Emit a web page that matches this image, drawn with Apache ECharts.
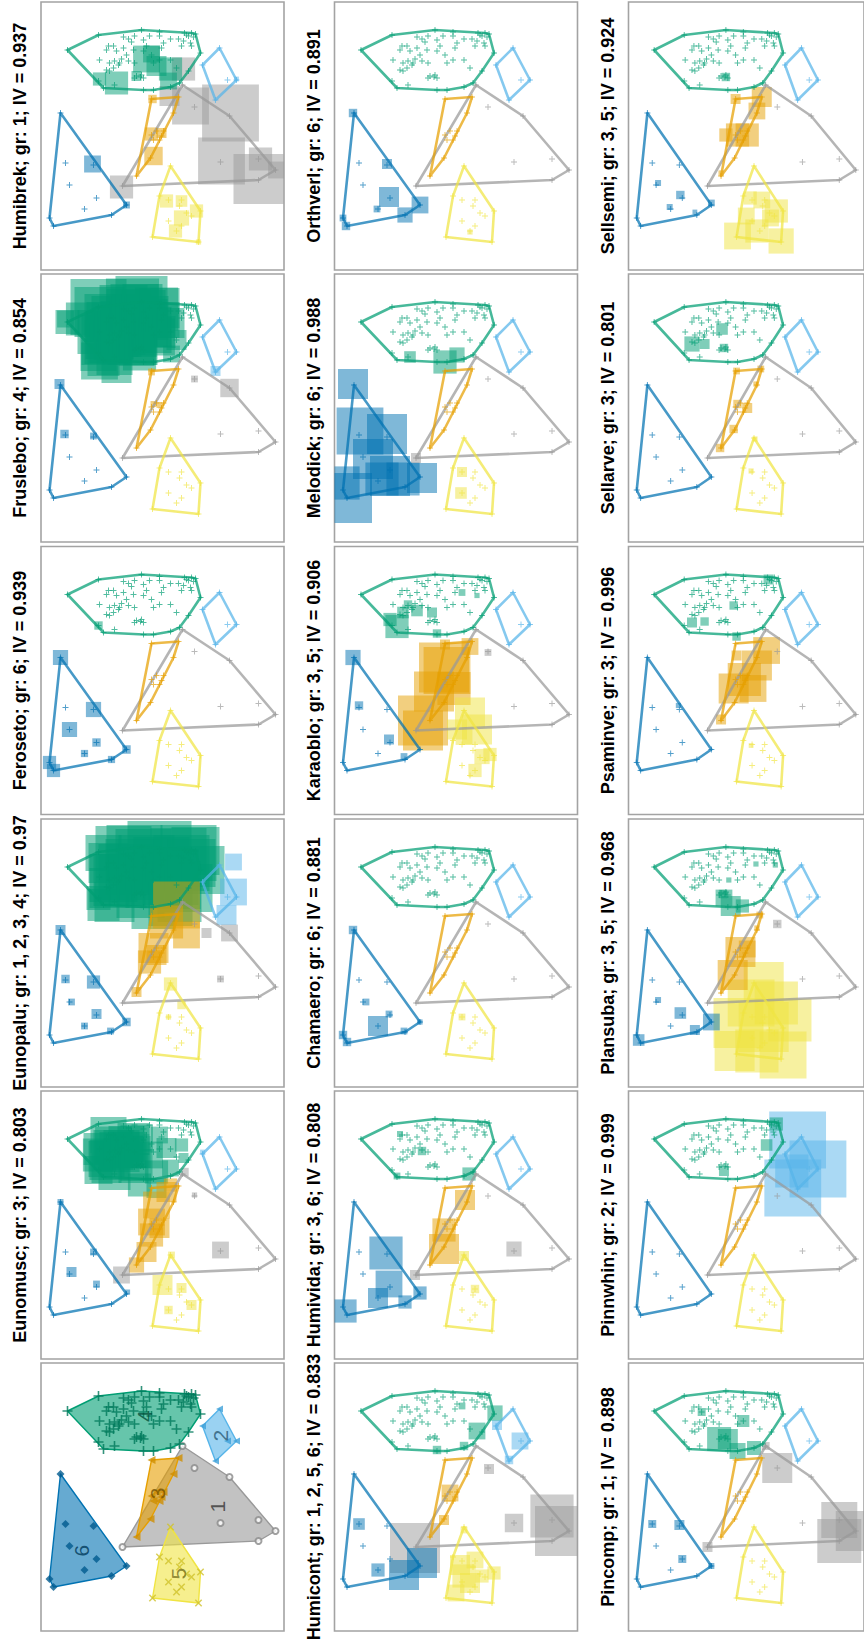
<!DOCTYPE html>
<html>
<head>
<meta charset="utf-8">
<script src="https://cdn.jsdelivr.net/npm/echarts@6/dist/echarts.min.js"></script>
<style>
  html, body { margin: 0; padding: 0; background: #ffffff; }
  #chart { width: 864px; height: 1643px; }
</style>
</head>
<body>
<div id="chart"></div>
<script>
// Okabe-Ito colours for site clusters 1-6
const groupColors = ['#999999', '#56B4E9', '#E69F00', '#009E73', '#F0E442', '#0072B2'];

// NMDS site scores per cluster: [NMDS2, NMDS1]
const sitesGroup1 = [[-0.20,0.51],[-0.32,0.29],[-0.67,0.20],[-0.58,-0.26],[-0.96,-0.23],[-1.13,-0.34],[-0.96,-0.44],[0.40,-0.50]];
const sitesGroup2 = [[-0.57,0.88],[-0.74,0.56],[-0.53,0.36],[-0.40,0.71],[-0.65,0.56]];
const sitesGroup3 = [[0.11,0.37],[-0.16,0.39],[-0.11,0.23],[0.26,-0.40],[0.11,0.01],[0.06,0.05],[0.01,0.00],[-0.01,0.05],[0.03,-0.04],[0.09,-0.04],[0.12,-0.22]];
const sitesGroup4 = [
  [0.95,0.86],[0.64,1.01],[0.21,1.06],[0.03,1.04],[-0.22,1.03],[-0.33,1.02],[-0.38,0.83],[-0.26,0.65],[-0.17,0.53],[-0.08,0.49],[0.09,0.46],[0.19,0.46],[0.59,0.48],[0.64,0.55],
  [0.39,0.99],[0.34,0.97],[0.28,1.00],[0.31,0.94],[0.19,0.96],[0.03,1.00],[-0.08,0.97],[-0.16,0.97],[-0.21,0.95],[-0.26,1.00],[-0.29,1.03],[-0.28,0.93],[-0.19,0.90],[-0.29,0.90],
  [0.54,0.90],[0.49,0.90],[0.56,0.86],[0.63,0.76],[0.53,0.73],[0.48,0.75],[0.43,0.73],[0.41,0.77],[0.36,0.81],[0.34,0.75],[0.29,0.86],[0.28,0.73],[0.19,0.85],[0.16,0.90],
  [0.11,0.81],[0.09,0.73],[0.03,0.76],[0.01,0.88],[-0.08,0.76],[-0.14,0.68],[0.56,0.66],[0.49,0.68],[0.44,0.71],[0.26,0.60],[0.22,0.59],[0.19,0.58],[0.28,0.58],[0.21,0.61],
  [0.48,0.51],[0.46,0.85],[0.53,0.65],[0.39,0.88],[0.13,1.00],[-0.31,0.99],[-0.24,1.01],[-0.01,0.93]
];
const sitesGroup5 = [[-0.08,-0.30],[0.03,-0.60],[-0.38,-0.75],[-0.36,-1.06],[0.10,-1.01],[-0.06,-0.64],[-0.19,-0.64],[-0.17,-0.70],[-0.24,-0.77],[-0.29,-0.80],[-0.06,-0.85],[-0.14,-0.95],[-0.19,-0.90]];
const sitesGroup6 = [[1.02,0.23],[0.97,-0.27],[0.69,-0.29],[0.93,-0.49],[0.66,-0.62],[0.78,-0.73],[0.51,-0.79],[0.36,-0.69],[1.13,-0.82],[1.09,-0.90]];

// Indicator species, their indicated clusters and indicator values
const speciesNames = ['Eunomusc','Eunopalu','Feroseto','Fruslebo','Humibrek','Humicont','Humivida','Chamaero','Karaoblo',
  'Melodick','Orthverl','Pincomp','Pinnwhin','Plansuba','Psaminve','Sellarve','Sellsemi'];
const speciesGroups = ['3','1, 2, 3, 4','6','4','1','1, 2, 5, 6','3, 6','6','3, 5','6','6','1','2','3, 5','3','3','3, 5'];
const speciesIV = [0.803, 0.97, 0.939, 0.854, 0.937, 0.833, 0.808, 0.881, 0.906, 0.988, 0.891, 0.898, 0.999, 0.968, 0.996, 0.801, 0.924];

// Species cover at sites: [NMDS2, NMDS1, cover, cluster]
const coverEunomusc = [
  [0.63,0.70,8.3,4],[0.49,0.80,9.2,4],[0.36,0.73,8.3,4],[0.23,0.87,6.7,4],[0.56,0.57,7.5,4],[0.29,0.57,7.5,4],[0.13,0.70,6.7,4],[0.06,0.53,5.8,4],
  [0.23,0.40,5.8,4],[0.06,0.37,5.0,4],[-0.08,0.57,4.2,4],[-0.04,0.77,5.0,4],[-0.19,0.80,3.3,4],[-0.21,0.67,2.5,4],[0.03,0.90,4.2,4],
  [0.54,0.90,9,4],[0.49,0.75,10,4],[0.43,0.73,10,4],[0.36,0.81,9,4],[0.53,0.65,10,4],[0.56,0.66,9,4],[0.48,0.51,8,4],[0.41,0.77,9,4],
  [0.29,0.86,8,4],[0.34,0.75,9,4],[0.28,0.73,8,4],[0.26,0.60,8,4],[0.64,0.55,7,4],[0.63,0.76,8,4],
  [-0.04,0.33,5.0,3],[0.06,0.20,6.7,3],[0.11,0.03,6.7,3],[0.11,-0.10,5.8,3],[0.16,-0.27,5.0,3],[0.26,-0.40,3.8,3],[0.03,-0.03,5.0,3],[-0.08,0.40,3.3,3],
  [-0.32,0.30,1.3,1],[-0.58,-0.25,4.2,1],[0.41,-0.50,4.2,1],[-0.22,0.53,2.1,1],
  [0.00,-0.60,5.0,5],[-0.19,-0.63,2.5,5],[-0.06,-0.85,2.1,5],[-0.29,-0.80,2.5,5],[-0.09,-0.30,1.7,5],
  [0.91,-0.47,2.5,6],[0.66,-0.59,1.7,6],[0.69,-0.27,1.7,6],[0.35,-0.67,1.3,6],[1.02,0.23,1.5,6],
  [-0.40,0.73,1.2,2]
];
const coverEunopalu = [
  [0.59,1.00,9,4],[0.39,0.99,14,4],[0.28,1.00,14,4],[0.19,0.96,14,4],[0.03,1.00,16,4],[-0.16,0.97,14,4],[-0.26,1.00,14,4],[-0.33,1.02,12,4],
  [-0.38,0.83,12,4],[-0.26,0.65,12,4],[-0.17,0.53,11,4],[0.54,0.90,10,4],[0.49,0.75,12,4],[0.36,0.81,14,4],[0.29,0.86,14,4],[0.16,0.90,14,4],
  [0.01,0.88,14,4],[-0.19,0.90,14,4],[-0.29,0.90,12,4],[0.53,0.65,10,4],[0.43,0.73,13,4],[0.28,0.73,13,4],[0.09,0.73,14,4],[-0.08,0.76,14,4],
  [-0.14,0.68,12,4],[0.48,0.51,10,4],[0.22,0.59,12,4],[0.09,0.46,11,4],[-0.08,0.49,11,4],[0.59,0.48,8,4],[0.64,0.55,6,4],
  [-0.71,0.61,6.7,2],[-0.71,0.91,4.2,2],[-0.64,0.38,5,2],
  [-0.14,0.48,11.7,3],[-0.04,0.31,8.3,3],[-0.24,0.18,6.7,3],[0.09,0.05,7.5,3],[0.13,-0.09,5.8,3],[0.26,-0.39,2.5,3],[0.06,-0.02,5,3],
  [-0.67,0.20,4.2,1],[-0.44,0.20,2.5,1],[-0.58,-0.26,1.7,1],
  [-0.08,-0.31,3.3,5],[-0.19,-0.52,2.1,5],[-0.06,-0.64,1.3,5],
  [1.02,0.23,2.5,6],[0.97,-0.26,2.1,6],[0.69,-0.29,3.3,6],[0.91,-0.49,1.7,6],[0.66,-0.61,2.5,6],[0.78,-0.73,1.7,6],[0.52,-0.78,1.7,6],[0.36,-0.69,2.1,6]
];
const coverFeroseto = [
  [1.02,0.23,3.8,6],[0.69,-0.29,3.8,6],[0.93,-0.49,3.8,6],[0.66,-0.62,2.1,6],[0.78,-0.73,1.8,6],[0.51,-0.79,1.8,6],[0.36,-0.69,2.1,6],[1.13,-0.82,3.3,6],[1.09,-0.90,3.3,6],
  [0.64,0.55,2.1,4]
];
const coverFruslebo = [
  [0.63,0.96,12.5,4],[0.30,1.03,13.3,4],[0.06,0.99,10.8,4],[0.80,0.89,8.3,4],[0.56,0.68,12.5,4],[0.30,0.68,12.5,4],[0.06,0.71,9.2,4],[0.63,0.47,9.2,4],
  [0.23,0.54,8.3,4],[-0.07,0.85,7.5,4],[-0.14,0.68,5,4],[-0.09,0.54,4.2,4],[0.46,0.40,7.5,4],[0.20,1.04,10,4],[0.97,0.89,4.2,4],
  [0.54,0.90,12,4],[0.49,0.90,11,4],[0.56,0.86,10,4],[0.39,0.99,12,4],[0.34,0.97,11,4],[0.28,1.00,12,4],[0.31,0.94,10,4],[0.19,0.96,11,4],
  [0.03,1.00,10,4],[0.63,0.76,11,4],[0.53,0.73,12,4],[0.48,0.75,10,4],[0.43,0.73,11,4],[0.41,0.77,12,4],[0.36,0.81,13,4],[0.34,0.75,10,4],
  [0.29,0.86,12,4],[0.28,0.73,11,4],[0.19,0.85,12,4],[0.16,0.90,11,4],[0.11,0.81,10,4],[0.09,0.73,9,4],[0.03,0.76,8,4],[0.01,0.88,9,4],
  [0.56,0.66,11,4],[0.49,0.68,10,4],[0.44,0.71,10,4],[0.26,0.60,9,4],[0.22,0.59,8,4],[0.48,0.51,9,4],[0.53,0.65,10,4],[0.64,0.55,9,4],
  [0.59,0.48,8,4],[0.64,1.01,14,4],[0.21,1.06,13,4],[0.95,0.86,6,4],
  [-0.32,0.29,1.7,1],[-0.67,0.20,4.6,1],
  [-0.53,0.37,2.5,2],
  [0.11,0.36,1.7,3],[0.09,0.04,1.5,3],[0.03,0.03,1.5,3],
  [1.03,0.24,2.5,6],[0.98,-0.26,2.1,6],[0.69,-0.28,1.7,6]
];
const coverHumibrek = [
  [-0.21,0.67,5.8,1],[-0.28,0.30,9.2,1],[-0.68,0.23,14.2,1],[-0.59,-0.25,11.7,1],[-0.96,-0.43,12.5,1],[-0.98,-0.23,5.8,1],[-1.14,-0.34,4.2,1],[0.41,-0.51,5.8,1],[-0.07,0.40,5,1],
  [0.16,0.77,6.7,4],[0.06,0.70,5,4],[-0.08,0.67,5.8,4],[0.46,0.53,5.8,4],[0.63,0.57,3.3,4],[0.26,0.60,2.5,4],[0.11,0.82,4.2,4],[-0.06,0.55,4.2,4],
  [0.70,-0.28,4.2,6],[0.36,-0.69,1.7,6],
  [0.10,0.37,2.1,3],[0.11,0.02,3.3,3],[0.09,-0.20,4.6,3],[0.01,0.03,2.5,3],
  [-0.04,-0.65,3.3,5],[-0.19,-0.65,2.9,5],[-0.34,-0.75,3.3,5],[-0.19,-0.82,3.8,5],[-0.13,-0.95,3.3,5],[-0.36,-1.06,1.3,5],
  [-0.74,0.57,1.2,2]
];
const coverHumicont = [
  [-0.33,0.28,2.5,1],[-0.58,-0.26,4.6,1],[-0.96,-0.19,10.8,1],[-1.04,-0.34,12.5,1],[0.41,-0.51,12.5,1],
  [0.97,-0.27,2.9,6],[0.78,-0.73,3.3,6],[0.52,-0.78,7.5,6],[0.34,-0.66,7.5,6],
  [-0.41,0.72,2.5,2],[-0.64,0.56,4.2,2],[-0.53,0.37,2.1,2],
  [-0.39,0.84,3.8,4],[-0.21,0.66,4.2,4],[-0.06,0.91,1.7,4],[0.19,0.47,2.1,4],[-0.08,0.51,2.1,4],
  [0.06,0.04,4.2,3],[0.12,-0.23,2.5,3],
  [-0.04,-0.68,5,5],[-0.08,-0.79,5.8,5],[-0.19,-0.63,4.2,5],[-0.38,-0.76,3.3,5],[0.00,-0.96,4.2,5],[-0.14,-0.86,5,5],[-0.26,-0.79,3.3,5],[-0.08,-0.33,1.7,5]
];
const coverHumivida = [
  [0.70,-0.28,8.3,6],[0.67,-0.59,6.7,6],[0.78,-0.73,5,6],[1.11,-0.86,5.8,6],[0.51,-0.77,3.3,6],[0.36,-0.68,3.3,6],
  [-0.09,0.25,5,3],[0.12,-0.05,5.8,3],[0.12,-0.24,7.5,3],
  [-0.13,0.51,3.3,4],[0.59,0.49,1.7,4],[0.56,0.91,1.5,4],[0.34,0.74,2.1,4],
  [0.41,-0.50,2.5,1],[-0.58,-0.24,3.8,1],
  [-0.08,-0.31,2.5,5],[-0.19,-0.64,2.1,5]
];
const coverChamaero = [
  [1.03,0.23,2.1,6],[0.90,-0.49,1.7,6],[0.78,-0.73,5,6],[0.67,-0.61,1.7,6],[1.13,-0.82,2.1,6],[1.09,-0.89,2.1,6],[0.52,-0.78,1.7,6],[0.36,-0.69,1.3,6],
  [-0.06,-0.64,1.7,5]
];
const coverKaraoblo = [
  [0.12,0.13,12.5,3],[0.09,0.10,11.7,3],[0.22,-0.11,10,3],[0.02,-0.08,8.3,3],[0.33,-0.40,12.5,3],[0.33,-0.50,10,3],[-0.14,0.34,4.2,3],[0.11,0.36,2.5,3],
  [-0.14,-0.32,7.5,5],[-0.21,-0.49,7.5,5],[-0.01,-0.49,5,5],[-0.26,-0.76,3.8,5],[-0.19,-0.90,3.3,5],[-0.34,-0.74,3.3,5],[-0.08,-0.56,4.2,5],
  [0.59,0.54,5.8,4],[0.66,0.61,3.3,4],[0.53,0.68,2.9,4],[0.39,0.70,2.9,4],[0.24,0.68,2.5,4],[0.19,0.47,2.1,4],[-0.06,0.88,1.7,4],[-0.21,0.85,1.3,4],[0.48,0.76,2.1,4],
  [-0.32,0.28,1.7,1],
  [1.03,0.23,3.8,6],[0.97,-0.25,2.1,6],[0.67,-0.59,2.5,6],[0.52,-0.76,1.7,6]
];
const coverMelodick = [
  [1.03,0.24,7.5,6],[0.96,-0.23,11.7,6],[0.69,-0.26,10,6],[0.83,-0.51,10,6],[0.66,-0.68,10,6],[0.53,-0.71,8.3,6],[0.34,-0.70,7.5,6],[1.09,-0.90,12.5,6],[1.13,-0.75,8.3,6],[0.74,-0.71,8.3,6],
  [0.46,0.51,2.9,4],[0.11,0.46,5.8,4],[-0.01,0.53,3.8,4],
  [0.40,-0.50,2.5,1],
  [-0.06,-0.64,2.5,5],[-0.05,-0.85,2.9,5]
];
const coverOrthverl = [
  [1.03,0.23,2.1,6],[0.69,-0.28,2.5,6],[0.67,-0.61,5,6],[0.79,-0.73,1.7,6],[0.51,-0.79,3.8,6],[0.36,-0.69,4.2,6],[1.13,-0.82,1.7,6],[1.10,-0.90,2.1,6],
  [-0.14,-0.96,1.3,5]
];
const coverPincomp = [
  [-0.32,0.29,7.5,1],[-0.96,-0.23,9,1],[-1.13,-0.34,10,1],[-0.96,-0.44,11,1],[0.40,-0.50,2.5,1],[-0.20,0.51,2,1],
  [0.19,0.58,5,4],[0.28,0.58,6,4],[0.09,0.46,4,4],[-0.08,0.49,3.5,4],[0.46,0.85,2,4],[0.03,0.76,3,4],
  [0.97,-0.27,2,6],[0.69,-0.28,2.5,6],[0.66,-0.62,2,6],[0.36,-0.69,1.5,6]
];
const coverPinnwhin = [
  [-0.53,0.85,14.2,2],[-0.74,0.56,14.2,2],[-0.48,0.37,14.2,2],[-0.47,0.54,8.3,2],
  [-0.31,1.01,3.3,4],[-0.21,0.80,2.9,4],[0.23,0.54,2.5,4]
];
const coverPlansuba = [
  [-0.18,-0.29,10,5],[-0.05,-0.50,11.7,5],[-0.31,-0.50,10.8,5],[0.08,-0.70,12.5,5],[-0.18,-0.74,12.5,5],[-0.45,-0.67,10.8,5],[0.12,-0.98,10,5],[-0.11,-0.98,10.8,5],[-0.38,-1.02,11.7,5],
  [0.06,0.01,7.5,3],[0.14,-0.22,7.5,3],[-0.01,0.04,4.2,3],[-0.14,0.38,1.7,3],[-0.11,0.25,1.3,3],
  [0.23,0.55,4.2,4],[0.16,0.47,5,4],[0.04,0.47,3.3,4],[0.24,0.59,2.1,4],[0.18,0.73,1.3,4],[-0.10,0.89,1.3,4],[-0.30,0.88,1.3,4],
  [-0.32,0.29,2.1,1],
  [1.11,-0.87,2.9,6],[0.68,-0.60,2.9,6],[0.91,-0.47,1.5,6],[0.53,-0.77,2.5,6],[0.36,-0.69,4.2,6]
];
const coverPsaminve = [
  [-0.21,0.30,6.7,3],[-0.11,0.15,7.5,3],[0.02,0.01,8.3,3],[0.13,-0.08,7.5,3],[-0.07,-0.08,6.7,3],[0.10,0.25,2.5,3],[0.26,-0.39,2.5,3],
  [0.56,0.58,2.5,4],[0.43,0.59,2.1,4],[0.13,0.75,2.1,4],[0.10,0.44,2.1,4],[-0.23,1.01,2.5,4],
  [0.70,-0.25,1.3,6],
  [-0.05,-0.65,1.2,5]
];
const coverSellarve = [
  [0.56,0.64,3.8,4],[0.43,0.64,2.5,4],[0.25,0.79,2.9,4],[0.23,0.60,2.1,4],
  [0.10,0.37,1.7,3],[-0.15,0.39,1.7,3],[-0.10,0.24,1.3,3],[0.09,0.04,2.1,3],[-0.01,0.00,2.5,3],[0.13,-0.21,2.1,3],[0.27,-0.40,2.1,3],
  [-0.09,-0.31,1.3,5],[-0.05,-0.63,1.3,5]
];
const coverSellsemi = [
  [0.11,0.37,2.5,3],[-0.16,0.39,5,3],[-0.11,0.25,4.2,3],[0.09,0.01,5.8,3],[-0.01,0.01,5.8,3],[0.21,0.01,3.3,3],[0.26,-0.37,1.3,3],
  [0.09,-1.00,6.7,5],[-0.11,-0.95,5.8,5],[-0.36,-1.05,6.3,5],[-0.31,-0.75,5.8,5],[-0.16,-0.64,4.2,5],[-0.04,-0.62,3.3,5],[0.00,-0.80,4.2,5],[-0.25,-0.82,4.2,5],
  [0.91,-0.47,1.5,6],[0.68,-0.59,2.1,6],[0.79,-0.71,1.5,6],[0.53,-0.76,1.2,6],[0.36,-0.67,1.7,6],
  [0.21,0.59,2.1,4]
];

const speciesCover = [coverEunomusc, coverEunopalu, coverFeroseto, coverFruslebo, coverHumibrek, coverHumicont, coverHumivida,
  coverChamaero, coverKaraoblo, coverMelodick, coverOrthverl, coverPincomp, coverPinnwhin, coverPlansuba, coverPsaminve,
  coverSellarve, coverSellsemi];

// ---- layout (pixels) ----
const COL_LEFT = [41, 334.5, 628.5];
const ROW_TOP = [2, 274, 546.5, 819, 1091, 1363];
const PANEL_W = 243, PANEL_H = 268;
const SQUARE_PX = 4;          // square side per cover unit
const FONT = '"Liberation Sans", Arial, Helvetica, sans-serif';
const PLUS = 'path://M0,4.2H10V5.8H0Z M4.2,0H5.8V10H4.2Z';

const siteGroups = [sitesGroup1, sitesGroup2, sitesGroup3, sitesGroup4, sitesGroup5, sitesGroup6];

function rgba(hex, a) {
  const n = parseInt(hex.slice(1), 16);
  return 'rgba(' + (n >> 16 & 255) + ',' + (n >> 8 & 255) + ',' + (n & 255) + ',' + a + ')';
}
function darken(hex, f) {
  const n = parseInt(hex.slice(1), 16);
  return 'rgb(' + Math.round((n >> 16 & 255) * f) + ',' + Math.round((n >> 8 & 255) * f) + ',' + Math.round((n & 255) * f) + ')';
}
function convexHull(pts) {
  const p = pts.slice().sort((a, b) => a[0] - b[0] || a[1] - b[1]);
  const cross = (o, a, b) => (a[0] - o[0]) * (b[1] - o[1]) - (a[1] - o[1]) * (b[0] - o[0]);
  const lower = [], upper = [];
  for (const q of p) { while (lower.length >= 2 && cross(lower[lower.length - 2], lower[lower.length - 1], q) <= 0) lower.pop(); lower.push(q); }
  for (let i = p.length - 1; i >= 0; i--) { const q = p[i]; while (upper.length >= 2 && cross(upper[upper.length - 2], upper[upper.length - 1], q) <= 0) upper.pop(); upper.push(q); }
  lower.pop(); upper.pop();
  return lower.concat(upper);
}

const hulls = siteGroups.map(convexHull);
const centroids = siteGroups.map(g => [g.reduce((s, p) => s + p[0], 0) / g.length, g.reduce((s, p) => s + p[1], 0) / g.length]);
const allSites = [];
siteGroups.forEach((g, gi) => g.forEach(p => allSites.push([p[0], p[1], gi + 1])));

const grids = [], xAxes = [], yAxes = [], series = [], graphics = [];

function panelPos(p) {
  const col = Math.floor(p / 6);
  const row = 5 - (p % 6);
  return { left: COL_LEFT[col], top: ROW_TOP[row] };
}

function hullSeries(p, filled) {
  return {
    type: 'custom', xAxisIndex: p, yAxisIndex: p, silent: true, z: 3,
    data: centroids.map((c, gi) => [c[0], c[1], gi + 1]),
    renderItem(params, api) {
      const g = api.value(2);
      const pts = hulls[g - 1].map(q => api.coord(q));
      const col = groupColors[g - 1];
      return {
        type: 'polygon', shape: { points: pts },
        style: filled
          ? { fill: rgba(col, 0.6), stroke: col, lineWidth: 1.4, lineJoin: 'round' }
          : { fill: 'none', stroke: rgba(col, 0.72), lineWidth: 2.6, lineJoin: 'round' }
      };
    }
  };
}

for (let p = 0; p < 18; p++) {
  const pos = panelPos(p);
  grids.push({ left: pos.left, top: pos.top, width: PANEL_W, height: PANEL_H, show: true,
    borderColor: '#a3a3a3', borderWidth: 1.6, backgroundColor: 'transparent' });
  xAxes.push({ gridIndex: p, type: 'value', min: -1.215, max: 1.215, inverse: true, show: false });
  yAxes.push({ gridIndex: p, type: 'value', min: -1.34, max: 1.34, show: false });

  if (p === 0) {
    // cluster overview: filled hulls, site symbols and cluster numbers
    series.push(hullSeries(0, true));
    const marks = [
      { symbol: 'emptyCircle', size: 6, rot: 0, color: '#8a8a8a' },
      { symbol: 'triangle', size: 7, rot: 90, color: '#3fa0d8' },
      { symbol: 'triangle', size: 8, rot: 90, color: '#cf8e00' },
      { symbol: PLUS, size: 10, rot: 0, color: '#00795b' },
      { symbol: PLUS, size: 9, rot: 45, color: '#cfc22a' },
      { symbol: 'diamond', size: 8, rot: 0, color: '#005a8e' }
    ];
    siteGroups.forEach((g, gi) => {
      series.push({ type: 'scatter', xAxisIndex: 0, yAxisIndex: 0, silent: true, z: 4, data: g,
        symbol: marks[gi].symbol, symbolSize: marks[gi].size, symbolRotate: marks[gi].rot,
        itemStyle: { color: marks[gi].color, borderColor: marks[gi].color, borderWidth: gi === 0 ? 1.2 : 0 } });
    });
    series.push({ type: 'scatter', xAxisIndex: 0, yAxisIndex: 0, silent: true, z: 5, symbolSize: 0,
      data: centroids.map((c, gi) => ({ value: [c[0], c[1], gi + 1],
        label: { color: darken(groupColors[gi], gi === 0 ? 0.35 : 0.5) } })),
      label: { show: true, position: 'inside', rotate: 90, formatter: d => String(d.value[2]), fontSize: 21, fontFamily: FONT } });
    continue;
  }

  const s = p - 1;
  // species cover squares, clipped to the panel
  series.push({
    type: 'custom', xAxisIndex: p, yAxisIndex: p, silent: true, z: 2,
    data: speciesCover[s],
    renderItem(params, api) {
      const c = api.coord([api.value(0), api.value(1)]);
      const side = api.value(2) * SQUARE_PX;
      const rect = echarts.graphic.clipRectByRect(
        { x: c[0] - side / 2, y: c[1] - side / 2, width: side, height: side },
        { x: params.coordSys.x, y: params.coordSys.y, width: params.coordSys.width, height: params.coordSys.height });
      if (!rect) return null;
      return { type: 'rect', shape: rect, style: { fill: rgba(groupColors[api.value(3) - 1], 0.5) } };
    }
  });
  series.push(hullSeries(p, false));
  series.push({ type: 'scatter', xAxisIndex: p, yAxisIndex: p, silent: true, z: 4, data: allSites,
    symbol: PLUS, symbolSize: 6,
    itemStyle: { color: d => rgba(groupColors[d.data[2] - 1], 0.85) } });

  graphics.push({
    type: 'text', x: pos.left - 21, y: pos.top + PANEL_H / 2, rotation: Math.PI / 2, silent: true,
    style: { text: speciesNames[s] + '; gr: ' + speciesGroups[s] + '; IV = ' + speciesIV[s],
      font: 'bold 18px ' + FONT, fill: '#000000', align: 'center', verticalAlign: 'middle',
      textAlign: 'center', textVerticalAlign: 'middle' }
  });
}

const chart = echarts.init(document.getElementById('chart'), null, { renderer: 'svg', width: 864, height: 1643 });
chart.setOption({
  animation: false,
  backgroundColor: '#ffffff',
  grid: grids, xAxis: xAxes, yAxis: yAxes, series: series, graphic: graphics
});
</script>
</body>
</html>
